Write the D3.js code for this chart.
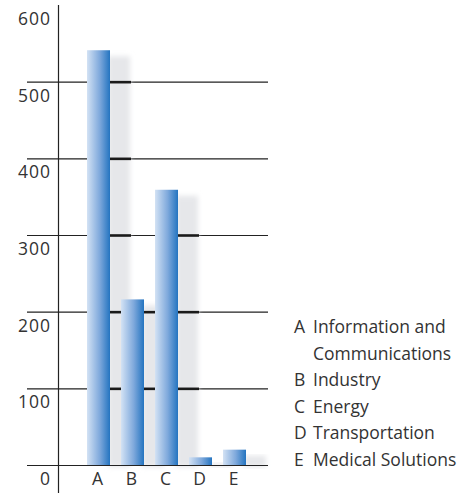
<!DOCTYPE html>
<html>
<head>
<meta charset="utf-8">
<script src="https://cdn.jsdelivr.net/npm/d3@7"></script>
<style>
  html, body { margin: 0; padding: 0; background: #fff; }
  svg { display: block; font-family: "Open Sans", "Noto Sans", sans-serif; }
</style>
</head>
<body>
<svg id="chart" width="465" height="493"></svg>
<script>
// Revenue by segment
const categories = ["A", "B", "C", "D", "E"];
const values = [541, 216, 359, 10, 20];
const tickValues = [0, 100, 200, 300, 400, 500, 600];
const legendLetters = ["A", "B", "C", "D", "E"];
const legendNames = [["Information and", "Communications"], ["Industry"], ["Energy"], ["Transportation"], ["Medical Solutions"]];

const svg = d3.select("#chart");
const axisX = 58, gridX0 = 27, gridX1 = 268;
const fontSize = 17.5;

const y = d3.scaleLinear().domain([0, 600]).range([465, 5]);
const x = d3.scaleBand().domain(categories).range([70, 263]).paddingInner(0.3235).paddingOuter(0.5);

const defs = svg.append("defs");
const grad = defs.append("linearGradient").attr("id", "barGrad").attr("x1", "0%").attr("x2", "100%");
grad.append("stop").attr("offset", "0%").attr("stop-color", "#d3e2f4");
grad.append("stop").attr("offset", "55%").attr("stop-color", "#7fa9dc");
grad.append("stop").attr("offset", "100%").attr("stop-color", "#2474c0");
defs.append("filter").attr("id", "soft").attr("x", "-30%").attr("y", "-10%").attr("width", "160%").attr("height", "120%")
  .append("feGaussianBlur").attr("stdDeviation", 2.5);

// horizontal gridlines
const gridVals = tickValues.filter(v => v < 600);
svg.append("g").selectAll("line").data(gridVals).join("line")
  .attr("x1", gridX0).attr("x2", gridX1)
  .attr("y1", d => y(d) + 0.5).attr("y2", d => y(d) + 0.5)
  .attr("stroke", "#222").attr("stroke-width", 1.2);

// soft drop shadows to the right of each bar
svg.append("g").selectAll("rect").data(categories).join("rect")
  .attr("x", d => x(d) + x.bandwidth() - 2)
  .attr("y", (d, i) => y(values[i]) + 6)
  .attr("width", 22)
  .attr("height", (d, i) => y(0) - y(values[i]) - 4)
  .attr("fill", "#e6e7ea")
  .attr("filter", "url(#soft)");

// gridlines look heavier where they pass through a shadow
const heavy = [];
categories.forEach((c, i) => {
  gridVals.forEach(g => {
    if (g > 0 && g < values[i]) heavy.push({ c, g });
  });
});
svg.append("g").selectAll("line").data(heavy).join("line")
  .attr("x1", d => x(d.c) + x.bandwidth())
  .attr("x2", d => x(d.c) + x.bandwidth() + 21)
  .attr("y1", d => y(d.g) + 0.5).attr("y2", d => y(d.g) + 0.5)
  .attr("stroke", "#1a1a1a").attr("stroke-width", 2.6);

// bars
svg.append("g").selectAll("rect").data(categories).join("rect")
  .attr("x", d => x(d))
  .attr("y", (d, i) => y(values[i]))
  .attr("width", x.bandwidth())
  .attr("height", (d, i) => y(0) - y(values[i]))
  .attr("fill", "url(#barGrad)");

// baseline
svg.append("line").attr("x1", gridX0).attr("x2", gridX1)
  .attr("y1", y(0) + 0.5).attr("y2", y(0) + 0.5)
  .attr("stroke", "#222").attr("stroke-width", 1.2);

// vertical axis
svg.append("line").attr("x1", axisX + 0.5).attr("x2", axisX + 0.5)
  .attr("y1", y(600)).attr("y2", 493)
  .attr("stroke", "#222").attr("stroke-width", 1.2);

// y tick labels sit just below their gridline
svg.append("g").selectAll("text").data(tickValues).join("text")
  .attr("x", 51).attr("y", d => y(d) + 20)
  .attr("text-anchor", "end")
  .attr("letter-spacing", 1)
  .attr("font-size", fontSize).attr("fill", "#333")
  .text(d => d);

// category labels
svg.append("g").selectAll("text").data(categories).join("text")
  .attr("x", d => x(d) + x.bandwidth() / 2 - 1).attr("y", 485)
  .attr("text-anchor", "middle")
  .attr("font-size", fontSize).attr("fill", "#333")
  .text(d => d);

// legend
const lines = [];
legendLetters.forEach((l, i) => {
  legendNames[i].forEach((n, j) => lines.push({ letter: j === 0 ? l : "", name: n }));
});
const leg = svg.append("g");
leg.selectAll("text.l").data(lines).join("text").attr("class", "l")
  .attr("x", 294).attr("y", (d, i) => 333 + i * 26.5)
  .attr("font-size", fontSize).attr("fill", "#333")
  .text(d => d.letter);
leg.selectAll("text.n").data(lines).join("text").attr("class", "n")
  .attr("x", 313).attr("y", (d, i) => 333 + i * 26.5)
  .attr("font-size", fontSize).attr("fill", "#333")
  .text(d => d.name);
</script>
</body>
</html>
